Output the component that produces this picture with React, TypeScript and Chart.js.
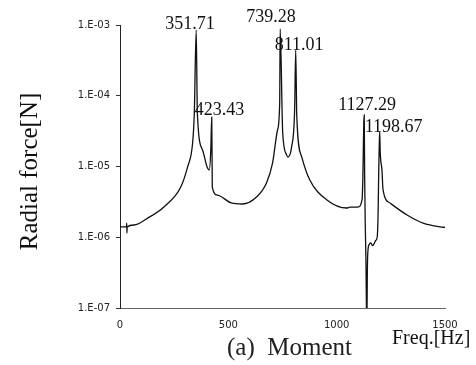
import React, { useEffect, useRef } from "react";
import { Chart, registerables } from "chart.js";

Chart.register(...registerables);

// Frequency [Hz]
const freq = [
  0, 30, 31, 32, 33, 65, 126, 204, 281, 312, 335, 343, 351.71, 357, 381, 404, 412, 419, 423.43, 426,
  449, 514, 565, 630, 676, 704, 727, 737, 739.28, 751, 769, 775, 792, 806, 811.01, 816, 839, 876, 955,
  1047, 1061, 1098, 1117, 1121, 1125, 1127.29, 1129, 1132, 1135, 1139, 1142, 1145, 1150, 1158, 1165,
  1172, 1180, 1187, 1191, 1194, 1196.5, 1198.67, 1201, 1209, 1214, 1246, 1325, 1399, 1478, 1500,
];
// Radial force [N]
const force = [
  1.4e-6, 1.4e-6, 1.58e-6, 1.15e-6, 1.4e-6, 1.49e-6, 1.85e-6, 2.7e-6, 5.18e-6, 9.9e-6, 2.13e-5, 5.7e-5,
  8.5e-4, 5.7e-5, 1.71e-5, 9.5e-6, 8.9e-6, 1.71e-5, 5.0e-5, 5.1e-6,
  3.95e-6, 3.05e-6, 2.95e-6, 3.7e-6, 5.85e-6, 1.12e-5, 3.28e-5, 7.9e-5, 8.8e-4, 2.97e-5, 1.46e-5,
  1.36e-5, 1.89e-5, 6.3e-5, 4.4e-4, 5.0e-5, 1.36e-5, 6.45e-6, 3.37e-6,
  2.59e-6, 2.67e-6, 2.67e-6, 3.37e-6, 7.1e-6, 4.0e-5, 5.35e-5, 8.0e-6, 1.5e-6, 5.0e-7, 5.0e-8, 4.0e-7,
  6.8e-7, 7.9e-7, 8.3e-7, 7.6e-7,
  8.0e-7, 9.0e-7, 1.0e-6, 2.0e-6, 8.0e-6, 2.0e-5, 3.1e-5, 1.6e-5, 8.9e-6, 4.7e-6, 3.05e-6, 2.06e-6,
  1.58e-6, 1.4e-6, 1.38e-6,
];

const peakFreqs = [351.71, 423.43, 739.28, 811.01, 1127.29, 1198.67];
const peakValues = [8.5e-4, 5.0e-5, 8.8e-4, 4.4e-4, 5.35e-5, 3.1e-5];
const peakLabels = ["351.71", "423.43", "739.28", "811.01", "1127.29", "1198.67"];

const xTickValues = [0, 500, 1000, 1500];
const yTickValues = [1e-7, 1e-6, 1e-5, 1e-4, 1e-3];
const yTickLabels = ["1.E-07", "1.E-06", "1.E-05", "1.E-04", "1.E-03"];

const yTitle = "Radial force[N]";
const xTitle = "Freq.[Hz]";
const caption = "(a)  Moment";

// label placement relative to the peak point (pixels): [dx to left edge, dy of baseline]
const labelOffsets: [number, number][] = [
  [-31, -1],
  [-17, -2],
  [-34, -7],
  [-21, 0],
  [-26, -5],
  [-15, 0],
];

const textPlugin = {
  id: "textPlugin",
  afterDraw(chart: any) {
    const ctx = chart.ctx;
    const xs = chart.scales.x;
    const ys = chart.scales.y;
    ctx.save();
    ctx.fillStyle = "#111";
    ctx.font = '18px "Liberation Serif", serif';
    ctx.textAlign = "left";
    ctx.textBaseline = "alphabetic";
    peakLabels.forEach((lab, i) => {
      const px = xs.getPixelForValue(peakFreqs[i]);
      const py = ys.getPixelForValue(peakValues[i]);
      ctx.fillText(lab, px + labelOffsets[i][0], py + labelOffsets[i][1]);
    });

    // y title
    ctx.save();
    ctx.translate(37, 171.5);
    ctx.rotate(-Math.PI / 2);
    ctx.textAlign = "center";
    ctx.font = '25px "Liberation Serif", serif';
    ctx.fillText(yTitle, 0, 0);
    ctx.restore();

    // x title
    ctx.font = '20px "Liberation Serif", serif';
    ctx.textAlign = "left";
    ctx.fillText(xTitle, 392, 344);

    // caption
    ctx.font = '25px "Liberation Serif", serif';
    ctx.fillStyle = "#222";
    ctx.fillText(caption, 227, 355);
    ctx.restore();
  },
};

export default function App() {
  const ref = useRef<HTMLCanvasElement | null>(null);

  useEffect(() => {
    if (!ref.current) return;
    const data = freq.map((f, i) => ({ x: f, y: force[i] }));
    const chart = new Chart(ref.current, {
      type: "line",
      data: {
        datasets: [
          {
            data,
            borderColor: "#111",
            borderWidth: 1.3,
            pointRadius: 0,
            fill: false,
            cubicInterpolationMode: "monotone",
          },
        ],
      },
      options: {
        animation: false,
        responsive: false,
        maintainAspectRatio: false,
        layout: { padding: { top: 25, right: 31, left: 0, bottom: 0 } },
        plugins: { legend: { display: false }, tooltip: { enabled: false } },
        scales: {
          x: {
            type: "linear",
            min: 0,
            max: 1500,
            afterBuildTicks: (s: any) => {
              s.ticks = xTickValues.map((v) => ({ value: v }));
            },
            afterFit: (s: any) => {
              s.height = 57;
            },
            grid: { display: false, drawTicks: false },
            border: { display: true, color: "#666", width: 1 },
            ticks: {
              padding: 11,
              color: "#222",
              font: { family: "DejaVu Sans", size: 10 },
              maxRotation: 0,
              autoSkip: false,
              callback: (v: any) => String(v),
            },
          },
          y: {
            type: "logarithmic",
            min: 1e-7,
            max: 1e-3,
            afterBuildTicks: (s: any) => {
              s.ticks = yTickValues.map((v) => ({ value: v }));
            },
            afterFit: (s: any) => {
              s.width = 120;
            },
            grid: {
              display: true,
              drawOnChartArea: false,
              drawTicks: true,
              tickLength: 4,
              color: "#333",
            },
            border: { display: true, color: "#222", width: 1 },
            ticks: {
              padding: 6,
              color: "#222",
              font: { family: "DejaVu Sans", size: 10 },
              autoSkip: false,
              callback: (v: any) => {
                const idx = yTickValues.findIndex((t) => Math.abs(Math.log10(t) - Math.log10(v)) < 1e-6);
                return idx >= 0 ? yTickLabels[idx] : "";
              },
            },
          },
        },
      },
      plugins: [textPlugin],
    } as any);
    return () => chart.destroy();
  }, []);

  return (
    <div style={{ position: "fixed", left: 0, top: 0, width: 476, height: 365, background: "#fff" }}>
      <canvas ref={ref} width={476} height={365} style={{ display: "block", width: 476, height: 365 }} />
    </div>
  );
}
